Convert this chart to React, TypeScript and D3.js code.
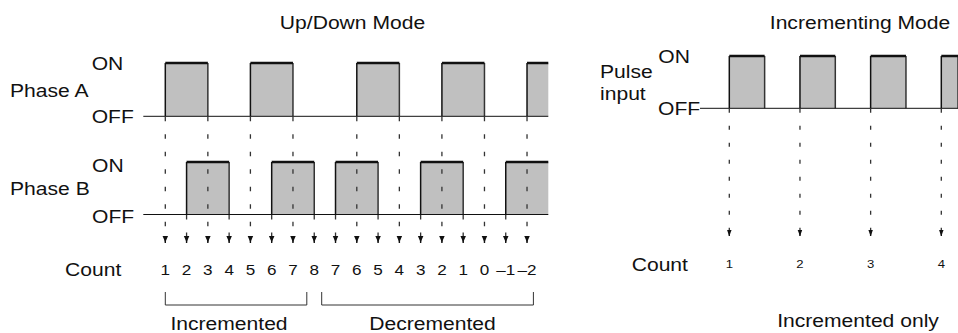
import React from "react";
import * as d3 from "d3";

// ---- data ----
const phaseA = [1, 1, 0, 0, 1, 1, 0, 0, 0, 1, 1, 0, 0, 1, 1, 0, 0, 1];
const phaseB = [0, 1, 1, 0, 0, 1, 1, 0, 1, 1, 0, 0, 1, 1, 0, 0, 1, 1];
const upDownCounts = ["1", "2", "3", "4", "5", "6", "7", "8", "7", "6", "5", "4", "3", "2", "1", "0", "–1", "–2"];
const pulseInput = [1, 0, 1, 0, 1, 0, 1, 0];
const incCounts = ["1", "2", "3", "4"];
const brackets = [
  { label: "Incremented", from: 0, to: 6.65 },
  { label: "Decremented", from: 7.35, to: 17.3 },
];

const W = 958;
const H = 333;
const FONT = "'Liberation Sans', Arial, Helvetica, sans-serif";
const SX = 1.14;

function runs(levels: number[]) {
  const out: { s: number; e: number }[] = [];
  let s = -1;
  levels.forEach((v, i) => {
    if (v && s < 0) s = i;
    if (!v && s >= 0) {
      out.push({ s, e: i });
      s = -1;
    }
  });
  if (s >= 0) out.push({ s, e: levels.length });
  return out;
}

function edges(levels: number[]) {
  const out: number[] = [];
  levels.forEach((v, i) => {
    const prev = i === 0 ? 0 : levels[i - 1];
    if (v !== prev) out.push(i);
  });
  return out;
}

function T({ x, y, size = 18.5, anchor = "start", children }: any) {
  return (
    <text
      transform={`translate(${x},${y}) scale(${SX},1)`}
      fontSize={size}
      fontFamily={FONT}
      textAnchor={anchor}
      fill="#111"
    >
      {children}
    </text>
  );
}

function Signal({ levels, x, top, base, x0, x1, clipEnd }: any) {
  const r = runs(levels);
  const n = levels.length;
  return (
    <g>
      {r.map((p: any, i: number) => {
        const xa = x(p.s);
        const xb = Math.min(x(p.e), clipEnd);
        return (
          <g key={i}>
            <rect x={xa} y={top} width={xb - xa} height={base - top} fill="#c0c0c0" />
            <line x1={xa} x2={xa} y1={top} y2={base} stroke="#111" strokeWidth={1.5} />
            {p.e < n && <line x1={xb} x2={xb} y1={top} y2={base} stroke="#333" strokeWidth={1.5} />}
            <line x1={xa} x2={xb} y1={top} y2={top} stroke="#111" strokeWidth={2.5} />
          </g>
        );
      })}
      <line x1={x0} x2={x1} y1={base} y2={base} stroke="#111" strokeWidth={1} />
    </g>
  );
}

function Arrow({ cx, tip, w, h }: any) {
  return (
    <g>
      <path d={`M${cx - w / 2},${tip - h} L${cx + w / 2},${tip - h} L${cx + 0.8},${tip - h * 0.35} L${cx},${tip} L${cx - 0.8},${tip - h * 0.35} Z`} fill="#111" />
      <line x1={cx} x2={cx} y1={tip - h} y2={tip} stroke="#111" strokeWidth={1.4} />
    </g>
  );
}

export default function App() {
  // Left (Up/Down) panel scale in quarter-period units
  const xL = d3.scaleLinear().domain([0, phaseA.length]).range([165.3, 548.3]);
  const aTop = 63, aBase = 116.3, bTop = 162, bBase = 214.5;
  const arrowTipL = 243, arrowHL = 7;
  const edgesA = edges(phaseA);
  const edgesB = edges(phaseB);

  // Right (Incrementing) panel scale in half-period units
  const xR = d3.scaleLinear().domain([0, 6]).range([729.3, 941.3]);
  const pTop = 56, pBase = 108.3;
  const arrowTipR = 236, arrowHR = 6;
  const rEdges = edges(pulseInput).filter((e) => pulseInput[e] === 1);

  const dash = "4.5 13";

  return (
    <svg width={W} height={H} style={{ position: "absolute", left: 0, top: 0, background: "#fff" }}>
      <rect width={W} height={H} fill="#fff" />
      {/* Titles */}
      <T x={352.5} y={29} anchor="middle">Up/Down Mode</T>
      <T x={860} y={29} anchor="middle">Incrementing Mode</T>

      {/* Left labels */}
      <T x={91.7} y={70}>ON</T>
      <T x={10} y={96.7}>Phase A</T>
      <T x={91.7} y={122.5}>OFF</T>
      <T x={92} y={171.7}>ON</T>
      <T x={10} y={195}>Phase B</T>
      <T x={92} y={223.3}>OFF</T>
      <T x={65} y={276}>Count</T>

      <Signal levels={phaseA} x={xL} top={aTop} base={aBase} x0={143.3} x1={xL(phaseA.length)} clipEnd={xL(phaseA.length)} />
      <Signal levels={phaseB} x={xL} top={bTop} base={bBase} x0={143.3} x1={xL(phaseB.length)} clipEnd={xL(phaseB.length)} />

      {/* dashed projection lines */}
      {edgesA.map((e) => (
        <line key={"da" + e} x1={xL(e)} x2={xL(e)} y1={aBase + 0.5} y2={arrowTipL - arrowHL} stroke="#333" strokeWidth={1.3} strokeDasharray={dash} />
      ))}
      {edgesB.map((e) => (
        <line key={"db" + e} x1={xL(e)} x2={xL(e)} y1={bBase + 0.5} y2={arrowTipL - arrowHL} stroke="#333" strokeWidth={1.3} strokeDasharray={dash} />
      ))}
      {upDownCounts.map((c, i) => (
        <g key={"c" + i}>
          <Arrow cx={xL(i)} tip={arrowTipL} w={5.5} h={arrowHL} />
          <T x={xL(i)} y={274.5} size={15} anchor="middle">{c}</T>
        </g>
      ))}

      {/* brackets */}
      {brackets.map((b, i) => (
        <path
          key={"b" + i}
          d={`M${xL(b.from)},292 V305 H${xL(b.to)} V292`}
          fill="none"
          stroke="#333"
          strokeWidth={1}
        />
      ))}
      <T x={229} y={330} anchor="middle">{brackets[0].label}</T>
      <T x={432.5} y={329.5} anchor="middle">{brackets[1].label}</T>

      {/* Right panel */}
      <T x={658.3} y={63.3}>ON</T>
      <T x={600} y={78.3}>Pulse</T>
      <T x={600} y={99.5}>input</T>
      <T x={658} y={115}>OFF</T>
      <Signal levels={pulseInput} x={xR} top={pTop} base={pBase} x0={700} x1={W} clipEnd={W} />
      {rEdges.map((e, i) => (
        <g key={"r" + e}>
          <line x1={xR(e)} x2={xR(e)} y1={pBase + 0.5} y2={arrowTipR - arrowHR} stroke="#333" strokeWidth={1.3} strokeDasharray="4 13" />
          <Arrow cx={xR(e)} tip={arrowTipR} w={4.5} h={arrowHR} />
          <T x={xR(e)} y={267.5} size={11.5} anchor="middle">{incCounts[i]}</T>
        </g>
      ))}
      <T x={631.7} y={271}>Count</T>
      <T x={858} y={327} anchor="middle">Incremented only</T>
    </svg>
  );
}
